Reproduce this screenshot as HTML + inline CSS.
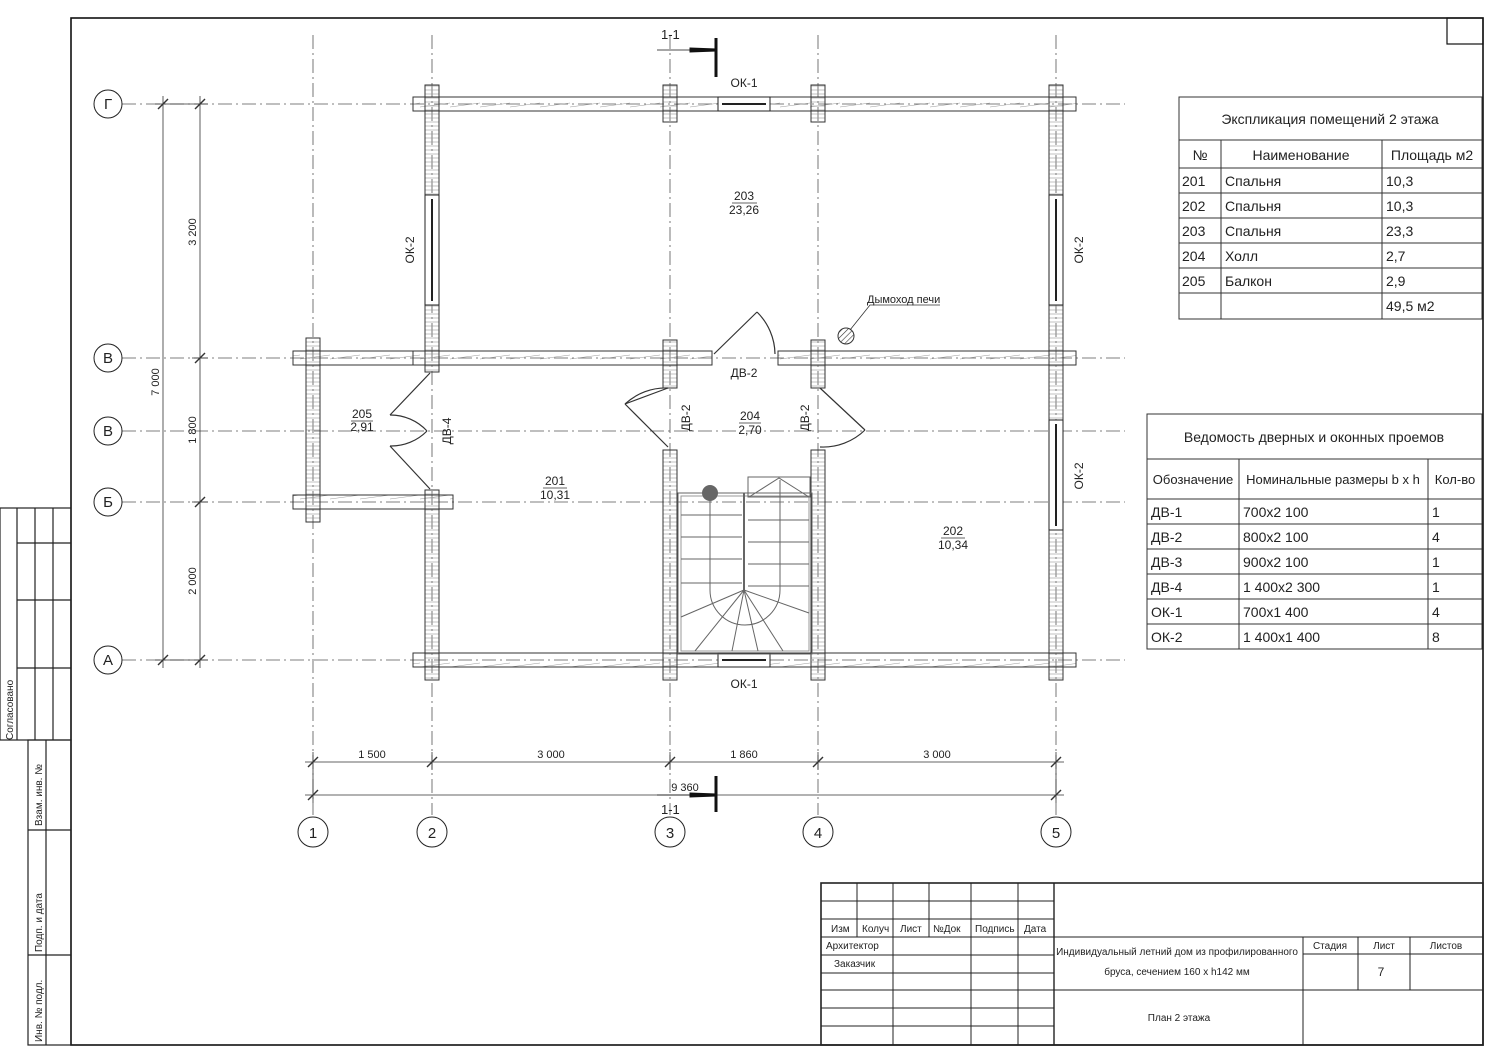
<!DOCTYPE html>
<html><head><meta charset="utf-8"><style>
html,body{margin:0;padding:0;background:#fff;}
svg{display:block;}
text{font-family:"Liberation Sans Narrow","Liberation Sans","DejaVu Sans Condensed",sans-serif;fill:#222;}
</style></head><body>
<svg width="1500" height="1062" viewBox="0 0 1500 1062" xmlns="http://www.w3.org/2000/svg">
<defs>
<pattern id="hv" width="4" height="4" patternUnits="userSpaceOnUse"><line x1="0" y1="2" x2="4" y2="2" stroke="#999" stroke-width="0.6"/></pattern>
<pattern id="hh" width="30" height="14" patternUnits="userSpaceOnUse"><line x1="0" y1="9" x2="30" y2="5" stroke="#999" stroke-width="0.6"/></pattern>
<pattern id="ch" width="4" height="4" patternUnits="userSpaceOnUse" patternTransform="rotate(45)"><line x1="0" y1="0" x2="0" y2="4" stroke="#333" stroke-width="1.2"/></pattern>
</defs>
<rect width="1500" height="1062" fill="#fff"/>
<rect x="71" y="18" width="1412" height="1027" fill="none" stroke="#111" stroke-width="1.6"/>
<rect x="1447" y="18" width="36" height="26" fill="none" stroke="#111" stroke-width="1.2"/>
<g stroke="#222" stroke-width="1.2" fill="none">
<rect x="0" y="508" width="71" height="232"/>
<line x1="17" y1="508" x2="17" y2="740"/><line x1="35" y1="508" x2="35" y2="740"/><line x1="53" y1="508" x2="53" y2="740"/>
<line x1="17" y1="543" x2="71" y2="543"/><line x1="17" y1="600" x2="71" y2="600"/><line x1="17" y1="668" x2="71" y2="668"/>
<rect x="28" y="740" width="43" height="305"/>
<line x1="46" y1="740" x2="46" y2="1045"/>
<line x1="28" y1="830" x2="71" y2="830"/><line x1="28" y1="955" x2="71" y2="955"/>
</g>
<g font-size="10">
<text transform="translate(13,740) rotate(-90)">Согласовано</text>
<text transform="translate(42,826) rotate(-90)">Взам. инв. №</text>
<text transform="translate(42,952) rotate(-90)">Подп. и дата</text>
<text transform="translate(42,1042) rotate(-90)">Инв. № подл.</text>
</g>

<g stroke="#555" stroke-width="0.8" stroke-dasharray="14,4,2,4" fill="none">
<line x1="313" y1="35" x2="313" y2="815"/>
<line x1="432" y1="35" x2="432" y2="815"/>
<line x1="670" y1="35" x2="670" y2="815"/>
<line x1="818" y1="35" x2="818" y2="815"/>
<line x1="1056" y1="35" x2="1056" y2="815"/>
<line x1="122" y1="104" x2="1125" y2="104"/>
<line x1="122" y1="358" x2="1125" y2="358"/>
<line x1="122" y1="431" x2="1125" y2="431"/>
<line x1="122" y1="502" x2="1125" y2="502"/>
<line x1="122" y1="660" x2="1125" y2="660"/>
</g>
<g stroke="#222" stroke-width="1" fill="#fff">
<circle cx="108" cy="104" r="14"/><circle cx="108" cy="358" r="14"/><circle cx="108" cy="431" r="14"/><circle cx="108" cy="502" r="14"/><circle cx="108" cy="660" r="14"/>
<circle cx="313" cy="832" r="15"/><circle cx="432" cy="832" r="15"/><circle cx="670" cy="832" r="15"/><circle cx="818" cy="832" r="15"/><circle cx="1056" cy="832" r="15"/>
</g>
<g font-size="15" text-anchor="middle">
<text x="108" y="109">Г</text><text x="108" y="363">В</text><text x="108" y="436">В</text><text x="108" y="507">Б</text><text x="108" y="665">А</text>
<text x="313" y="838">1</text><text x="432" y="838">2</text><text x="670" y="838">3</text><text x="818" y="838">4</text><text x="1056" y="838">5</text>
</g>

<g stroke="#333" stroke-width="0.8">
<line x1="163" y1="96" x2="163" y2="668"/>
<line x1="200" y1="96" x2="200" y2="668"/>
<line x1="155" y1="104" x2="208" y2="104"/><line x1="155" y1="660" x2="208" y2="660"/>
<line x1="192" y1="358" x2="208" y2="358"/><line x1="192" y1="502" x2="208" y2="502"/>
<g stroke-width="1.4">
<line x1="158" y1="109" x2="168" y2="99"/><line x1="158" y1="665" x2="168" y2="655"/>
<line x1="195" y1="109" x2="205" y2="99"/><line x1="195" y1="363" x2="205" y2="353"/><line x1="195" y1="507" x2="205" y2="497"/><line x1="195" y1="665" x2="205" y2="655"/>
</g>
<line x1="305" y1="762" x2="1064" y2="762"/>
<line x1="305" y1="795" x2="1064" y2="795"/>
<line x1="313" y1="752" x2="313" y2="803"/><line x1="432" y1="752" x2="432" y2="770"/><line x1="670" y1="752" x2="670" y2="770"/><line x1="818" y1="752" x2="818" y2="770"/><line x1="1056" y1="752" x2="1056" y2="803"/>
<g stroke-width="1.4">
<line x1="308" y1="767" x2="318" y2="757"/><line x1="427" y1="767" x2="437" y2="757"/><line x1="665" y1="767" x2="675" y2="757"/><line x1="813" y1="767" x2="823" y2="757"/><line x1="1051" y1="767" x2="1061" y2="757"/>
<line x1="308" y1="800" x2="318" y2="790"/><line x1="1051" y1="800" x2="1061" y2="790"/>
</g>
</g>
<g font-size="11" text-anchor="middle">
<text transform="translate(159,382) rotate(-90)">7 000</text>
<text transform="translate(196,232) rotate(-90)">3 200</text>
<text transform="translate(196,430) rotate(-90)">1 800</text>
<text transform="translate(196,581) rotate(-90)">2 000</text>
<text x="372" y="758">1 500</text><text x="551" y="758">3 000</text><text x="744" y="758">1 860</text><text x="937" y="758">3 000</text>
<text x="685" y="791">9 360</text>
</g>

<g stroke="#111" fill="#111">
<line x1="657" y1="50" x2="716" y2="50" stroke-width="0.8"/>
<polygon points="690,48 716,49 716,51 690,52"/>
<line x1="716" y1="38" x2="716" y2="77" stroke-width="3"/>
<line x1="657" y1="795" x2="716" y2="795" stroke-width="0.8"/>
<polygon points="690,793 716,794 716,796 690,797"/>
<line x1="716" y1="776" x2="716" y2="812" stroke-width="3"/>
</g>
<g font-size="13"><text x="661" y="39">1-1</text><text x="661" y="814">1-1</text></g>

<g stroke="#333" stroke-width="1">
<rect x="413" y="97" width="663" height="14" fill="url(#hh)"/>
<rect x="413" y="653" width="663" height="14" fill="url(#hh)"/>
<rect x="413" y="351" width="299" height="14" fill="url(#hh)"/>
<rect x="778" y="351" width="298" height="14" fill="url(#hh)"/>
<rect x="293" y="351" width="120" height="14" fill="url(#hh)"/>
<rect x="293" y="495" width="160" height="14" fill="url(#hh)"/>
<rect x="306" y="338" width="14" height="184" fill="url(#hv)"/>
<rect x="425" y="85" width="14" height="287" fill="url(#hv)"/>
<rect x="425" y="490" width="14" height="190" fill="url(#hv)"/>
<rect x="1049" y="85" width="14" height="595" fill="url(#hv)"/>
<rect x="663" y="85" width="14" height="37" fill="url(#hv)"/>
<rect x="811" y="85" width="14" height="37" fill="url(#hv)"/>
<rect x="663" y="340" width="14" height="48" fill="url(#hv)"/>
<rect x="811" y="340" width="14" height="48" fill="url(#hv)"/>
<rect x="663" y="450" width="14" height="230" fill="url(#hv)"/>
<rect x="811" y="450" width="14" height="230" fill="url(#hv)"/>
</g>
<g stroke="#222" stroke-width="1" fill="#fff">
<rect x="718" y="97" width="52" height="14"/><line x1="722" y1="104" x2="766" y2="104" stroke-width="2"/>
<rect x="718" y="653" width="52" height="14"/><line x1="722" y1="660" x2="766" y2="660" stroke-width="2"/>
<rect x="425" y="195" width="14" height="110"/><line x1="432" y1="199" x2="432" y2="301" stroke-width="2"/>
<rect x="1049" y="195" width="14" height="110"/><line x1="1056" y1="199" x2="1056" y2="301" stroke-width="2"/>
<rect x="1049" y="420" width="14" height="110"/><line x1="1056" y1="424" x2="1056" y2="526" stroke-width="2"/>
</g>
<g stroke="#333" stroke-width="1.2" fill="none">
<line x1="714" y1="354" x2="757" y2="312"/><path d="M757 312 A60 60 0 0 1 775 354"/>
<line x1="668" y1="388" x2="625" y2="404"/><path d="M625 404 L668 447"/><path d="M668 388 A60 60 0 0 0 625 404"/>
<line x1="820" y1="388" x2="865" y2="430"/><path d="M865 430 A60 60 0 0 1 820 447"/>
<line x1="430" y1="373" x2="390" y2="415"/><path d="M390 415 A50 50 0 0 1 427 431"/>
<line x1="430" y1="489" x2="390" y2="446"/><path d="M390 446 A50 50 0 0 0 427 431"/>
</g>
<circle cx="846" cy="336" r="8" fill="url(#ch)" stroke="#333"/>
<polyline points="850,330 870,305 940,305" fill="none" stroke="#333" stroke-width="0.8"/>
<text x="867" y="303" font-size="11">Дымоход печи</text>
<g stroke="#666" stroke-width="1" fill="none">
<rect x="678" y="493" width="134" height="161"/>
<rect x="681" y="496" width="128" height="155" stroke="#999"/>
<line x1="744" y1="493" x2="744" y2="590" stroke-width="2"/>
<rect x="748" y="477" width="62" height="20"/>
<path d="M749 497 L779 478 L809 497"/>
<line x1="681" y1="515" x2="742" y2="515"/><line x1="681" y1="537" x2="742" y2="537"/><line x1="681" y1="559" x2="742" y2="559"/><line x1="681" y1="583" x2="742" y2="583"/>
<line x1="748" y1="520" x2="809" y2="520"/><line x1="748" y1="542" x2="809" y2="542"/><line x1="748" y1="564" x2="809" y2="564"/><line x1="748" y1="586" x2="809" y2="586"/>
<path d="M710 500 L710 590 A34 34 0 0 0 780 590 L780 480"/>
<line x1="744" y1="590" x2="681" y2="617"/><line x1="744" y1="590" x2="695" y2="651"/><line x1="744" y1="590" x2="732" y2="651"/><line x1="744" y1="590" x2="758" y2="651"/><line x1="744" y1="590" x2="783" y2="651"/><line x1="744" y1="590" x2="809" y2="613"/>
</g>
<circle cx="710" cy="493" r="8" fill="#666"/>

<g font-size="12" text-anchor="middle">
<text x="744" y="87">ОК-1</text><text x="744" y="688">ОК-1</text>
<text x="744" y="377">ДВ-2</text>
<text transform="translate(414,250) rotate(-90)">ОК-2</text>
<text transform="translate(1083,250) rotate(-90)">ОК-2</text>
<text transform="translate(1083,476) rotate(-90)">ОК-2</text>
<text transform="translate(451,431) rotate(-90)">ДВ-4</text>
<text transform="translate(690,418) rotate(-90)">ДВ-2</text>
<text transform="translate(809,418) rotate(-90)">ДВ-2</text>
</g>
<g font-size="12" text-anchor="middle">
<text x="744" y="200">203</text><text x="744" y="214">23,26</text>
<text x="362" y="418">205</text><text x="362" y="431">2,91</text>
<text x="750" y="420">204</text><text x="750" y="434">2,70</text>
<text x="555" y="485">201</text><text x="555" y="499">10,31</text>
<text x="953" y="535">202</text><text x="953" y="549">10,34</text>
</g>
<g stroke="#333" stroke-width="0.8">
<line x1="732" y1="203" x2="757" y2="203"/><line x1="351" y1="421" x2="373" y2="421"/><line x1="739" y1="423" x2="761" y2="423"/><line x1="543" y1="488" x2="567" y2="488"/><line x1="941" y1="538" x2="965" y2="538"/>
</g>

<g stroke="#333" stroke-width="1" fill="none">
<rect x="1179" y="97" width="303" height="222"/>
<line x1="1179" y1="140" x2="1482" y2="140"/><line x1="1179" y1="168" x2="1482" y2="168"/><line x1="1179" y1="193" x2="1482" y2="193"/><line x1="1179" y1="218" x2="1482" y2="218"/><line x1="1179" y1="243" x2="1482" y2="243"/><line x1="1179" y1="268" x2="1482" y2="268"/><line x1="1179" y1="293" x2="1482" y2="293"/>
<line x1="1221" y1="140" x2="1221" y2="319"/><line x1="1382" y1="140" x2="1382" y2="319"/>
</g>
<g font-size="14">
<text x="1330" y="124" text-anchor="middle">Экспликация помещений 2 этажа</text>
<text x="1200" y="160" text-anchor="middle">№</text><text x="1301" y="160" text-anchor="middle">Наименование</text><text x="1432" y="160" text-anchor="middle">Площадь м2</text>
<text x="1182" y="186">201</text><text x="1225" y="186">Спальня</text><text x="1386" y="186">10,3</text>
<text x="1182" y="211">202</text><text x="1225" y="211">Спальня</text><text x="1386" y="211">10,3</text>
<text x="1182" y="236">203</text><text x="1225" y="236">Спальня</text><text x="1386" y="236">23,3</text>
<text x="1182" y="261">204</text><text x="1225" y="261">Холл</text><text x="1386" y="261">2,7</text>
<text x="1182" y="286">205</text><text x="1225" y="286">Балкон</text><text x="1386" y="286">2,9</text>
<text x="1386" y="311">49,5 м2</text>
</g>
<g stroke="#333" stroke-width="1" fill="none">
<rect x="1147" y="414" width="335" height="235"/>
<line x1="1147" y1="459" x2="1482" y2="459"/><line x1="1147" y1="499" x2="1482" y2="499"/><line x1="1147" y1="524" x2="1482" y2="524"/><line x1="1147" y1="549" x2="1482" y2="549"/><line x1="1147" y1="574" x2="1482" y2="574"/><line x1="1147" y1="599" x2="1482" y2="599"/><line x1="1147" y1="624" x2="1482" y2="624"/>
<line x1="1239" y1="459" x2="1239" y2="649"/><line x1="1428" y1="459" x2="1428" y2="649"/>
</g>
<g font-size="14">
<text x="1314" y="442" text-anchor="middle">Ведомость дверных и оконных проемов</text>
<text x="1193" y="484" text-anchor="middle" font-size="13">Обозначение</text><text x="1333" y="484" text-anchor="middle" font-size="13">Номинальные размеры  b x h</text><text x="1455" y="484" text-anchor="middle" font-size="13">Кол-во</text>
<text x="1151" y="517">ДВ-1</text><text x="1243" y="517">700x2 100</text><text x="1432" y="517">1</text>
<text x="1151" y="542">ДВ-2</text><text x="1243" y="542">800x2 100</text><text x="1432" y="542">4</text>
<text x="1151" y="567">ДВ-3</text><text x="1243" y="567">900x2 100</text><text x="1432" y="567">1</text>
<text x="1151" y="592">ДВ-4</text><text x="1243" y="592">1 400x2 300</text><text x="1432" y="592">1</text>
<text x="1151" y="617">ОК-1</text><text x="1243" y="617">700x1 400</text><text x="1432" y="617">4</text>
<text x="1151" y="642">ОК-2</text><text x="1243" y="642">1 400x1 400</text><text x="1432" y="642">8</text>
</g>

<g stroke="#222" stroke-width="1" fill="none">
<rect x="821" y="883" width="662" height="162" stroke-width="1.6"/>
<line x1="857" y1="883" x2="857" y2="937"/><line x1="893" y1="883" x2="893" y2="1045"/><line x1="929" y1="883" x2="929" y2="937"/>
<line x1="971" y1="883" x2="971" y2="1045"/><line x1="1018" y1="883" x2="1018" y2="1045"/><line x1="1054" y1="883" x2="1054" y2="1045" stroke-width="1.4"/>
<line x1="821" y1="901" x2="1054" y2="901"/><line x1="821" y1="919" x2="1054" y2="919"/><line x1="821" y1="937" x2="1483" y2="937"/>
<line x1="821" y1="955" x2="1054" y2="955"/><line x1="821" y1="973" x2="1054" y2="973"/><line x1="821" y1="990" x2="1483" y2="990"/>
<line x1="821" y1="1008" x2="1054" y2="1008"/><line x1="821" y1="1026" x2="1054" y2="1026"/>
<line x1="1303" y1="937" x2="1303" y2="1045"/><line x1="1358" y1="937" x2="1358" y2="990"/><line x1="1410" y1="937" x2="1410" y2="990"/>
<line x1="1303" y1="954" x2="1483" y2="954"/>
</g>
<g font-size="10">
<text x="831" y="932">Изм</text><text x="862" y="932">Колуч</text><text x="900" y="932">Лист</text><text x="933" y="932">№Док</text><text x="975" y="932">Подпись</text><text x="1024" y="932">Дата</text>
<text x="826" y="949">Архитектор</text><text x="834" y="967">Заказчик</text>
<text x="1177" y="955" text-anchor="middle">Индивидуальный летний дом из профилированного</text>
<text x="1177" y="975" text-anchor="middle">бруса, сечением 160 x h142 мм</text>
<text x="1179" y="1021" text-anchor="middle">План 2 этажа</text>
<text x="1330" y="949" text-anchor="middle">Стадия</text><text x="1384" y="949" text-anchor="middle">Лист</text><text x="1446" y="949" text-anchor="middle">Листов</text>
<text x="1381" y="976" text-anchor="middle" font-size="12">7</text>
</g>
</svg>
</body></html>
